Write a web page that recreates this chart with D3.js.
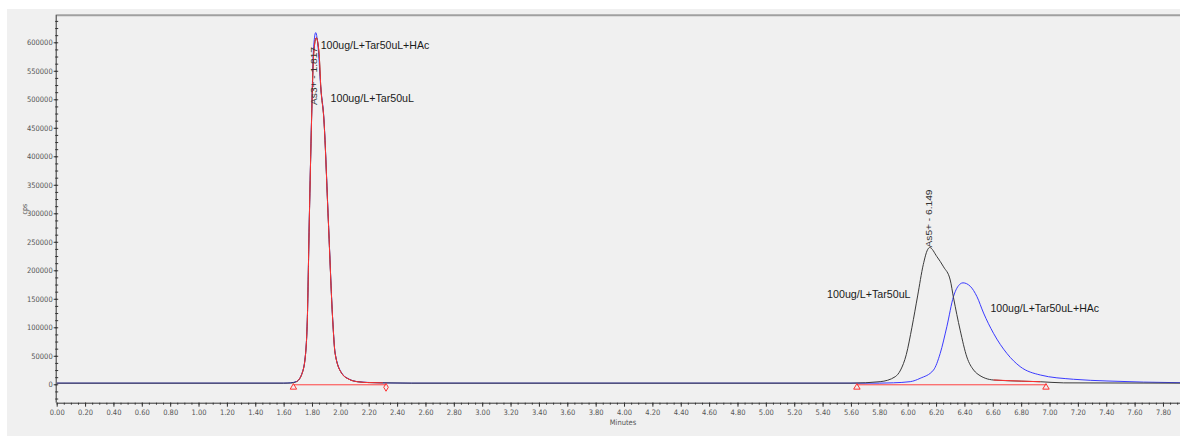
<!DOCTYPE html>
<html>
<head>
<meta charset="utf-8">
<script src="https://cdn.jsdelivr.net/npm/d3@7"></script>
<style>
  html, body { margin: 0; padding: 0; background: #ffffff; }
  svg { display: block; }
</style>
</head>
<body>
<svg id="chart" width="1180" height="436"></svg>
<script>
// ---------------- DATA ----------------
// Trace 1: 100ug/L+Tar50uL (black)
const blackTime = [0, 1.60, 1.65, 1.69, 1.73, 1.755, 1.767, 1.781, 1.797, 1.803, 1.812, 1.830, 1.850, 1.862, 1.884, 1.915, 1.946, 1.963, 2.010, 2.060, 2.120, 2.200, 2.300, 2.500, 5.600, 5.806, 5.912, 5.950, 5.990, 6.030, 6.070, 6.110, 6.140, 6.155, 6.206, 6.253, 6.300, 6.323, 6.370, 6.417, 6.465, 6.488, 6.605, 6.800, 6.935, 7.100, 7.920];
const blackCps  = [2000, 2000, 2200, 4500, 19000, 54000, 113000, 288000, 464000, 522000, 580000, 608000, 580000, 522000, 464000, 288000, 113000, 54000, 19000, 9000, 4500, 3000, 2500, 2000, 2000, 4600, 13300, 25000, 52000, 100000, 155000, 210000, 236000, 240000, 224000, 206000, 183000, 152000, 95000, 48000, 25000, 19000, 7500, 5500, 4500, 2500, 2000];

// Trace 2: 100ug/L+Tar50uL+HAc (blue)
const blueTime = [0, 1.60, 1.65, 1.69, 1.73, 1.755, 1.767, 1.781, 1.797, 1.803, 1.810, 1.826, 1.845, 1.860, 1.884, 1.915, 1.946, 1.963, 2.010, 2.060, 2.120, 2.200, 2.300, 2.500, 5.800, 5.900, 6.018, 6.088, 6.182, 6.229, 6.276, 6.323, 6.370, 6.390, 6.441, 6.488, 6.535, 6.605, 6.700, 6.793, 6.935, 7.169, 7.405, 7.920];
const blueCps  = [2000, 2000, 2700, 4800, 19500, 55000, 114000, 290000, 468000, 528000, 585000, 617000, 585000, 526000, 466000, 290000, 114000, 55000, 19500, 9200, 4700, 3200, 2500, 2000, 2000, 2600, 4600, 10500, 25000, 54000, 101000, 154000, 176000, 178000, 172000, 154000, 125000, 89500, 54000, 31000, 16300, 8800, 5800, 2800];

// Peaks and integration windows (minutes)
const peakNames  = ["As3+", "As5+"];
const peakRT     = [1.817, 6.149];
const intStart   = [1.669, 5.642];
const intEnd     = [2.322, 6.975];
const peakLabelCps = [490000, 240000];
// red integration trace ranges (minutes)
const redTraceFrom = [1.669, 6.600];
const redTraceTo   = [2.322, 6.975];

// Trace labels
const traceLabels    = ["100ug/L+Tar50uL+HAc", "100ug/L+Tar50uL", "100ug/L+Tar50uL", "100ug/L+Tar50uL+HAc"];
const traceLabelTime = [1.861, 1.931, 5.432, 6.584];
const traceLabelCps  = [587700, 495800, 150900, 127400];

// Axis ticks
const xTicks = d3.range(0, 40).map(i => i * 0.2);   // 0.00 .. 7.80
const yTicks = d3.range(0, 13).map(i => i * 50000); // 0 .. 600000

// ---------------- LAYOUT ----------------
(function () {
const svg = d3.select("#chart");
const W = 1180, H = 436;
const pLeft = 56.7, pRight = 1180, pTop = 14.7, pBottom = 402.7;

svg.append("rect").attr("x", 7).attr("y", 9).attr("width", W - 7).attr("height", H - 9).attr("fill", "#f0f0f0");

const x = d3.scaleLinear().domain([0, 7.92]).range([pLeft, pRight]);
const y = d3.scaleLinear().domain([-32300, 648400]).range([pBottom, pTop]);

// top border
svg.append("line").attr("x1", pLeft).attr("x2", pRight).attr("y1", pTop + 0.5).attr("y2", pTop + 0.5)
  .attr("stroke", "#a0a0a0").attr("stroke-width", 2);

const tickFont = "'Liberation Sans Narrow', 'DejaVu Sans Condensed', 'Liberation Sans', sans-serif";

// X axis minor ticks
const xMinor = svg.append("g").attr("transform", `translate(0,${pBottom})`)
  .call(d3.axisBottom(x).tickValues(d3.range(0, 159).map(i => i * 0.05)).tickSize(2).tickFormat(""));
xMinor.select(".domain").remove();
xMinor.selectAll("line").attr("stroke", "#333");

// X axis major
const xAxis = svg.append("g").attr("transform", `translate(0,${pBottom})`)
  .call(d3.axisBottom(x).tickValues(xTicks).tickSize(4).tickSizeOuter(0).tickPadding(3).tickFormat(d3.format(".2f")));
xAxis.select(".domain").attr("stroke", "#333").attr("d", `M${pLeft},0.5H${pRight}`);
xAxis.selectAll("line").attr("stroke", "#333");
xAxis.selectAll("text").attr("font-family", tickFont).attr("font-size", 7.5).attr("fill", "#555");

// Y axis minor ticks
const yMinor = svg.append("g").attr("transform", `translate(${pLeft},0)`)
  .call(d3.axisLeft(y).tickValues(d3.range(-2, 52).map(i => i * 12500)).tickSize(2).tickFormat(""));
yMinor.select(".domain").remove();
yMinor.selectAll("line").attr("stroke", "#333").attr("x2", 1.5).attr("x1", -1.5);

// Y axis major
const yAxis = svg.append("g").attr("transform", `translate(${pLeft},0)`)
  .call(d3.axisLeft(y).tickValues(yTicks).tickSize(3).tickSizeOuter(0).tickPadding(1).tickFormat(d => String(d)));
yAxis.select(".domain").attr("stroke", "#333").attr("d", `M-0.5,${pTop}V${pBottom}`);
yAxis.selectAll("line").attr("stroke", "#333");
yAxis.selectAll("text").attr("font-family", tickFont).attr("font-size", 7.5).attr("fill", "#555");

// Axis titles
svg.append("text").attr("x", 623).attr("y", 425).attr("text-anchor", "middle")
  .attr("font-family", tickFont).attr("font-size", 7.5).attr("fill", "#555").text("Minutes");
svg.append("text").attr("transform", "translate(27,209) rotate(-90)").attr("text-anchor", "middle")
  .attr("font-family", tickFont).attr("font-size", 7).attr("fill", "#555").text("cps");

// ---------------- TRACES ----------------
svg.append("clipPath").attr("id", "plotclip").append("rect")
  .attr("x", pLeft).attr("y", pTop).attr("width", pRight - pLeft).attr("height", pBottom - pTop);
const plot = svg.append("g").attr("clip-path", "url(#plotclip)");

const line = d3.line().x(d => x(d[0])).y(d => y(d[1])).curve(d3.curveMonotoneX);
const blueData  = blueTime.map((t, i) => [t, blueCps[i]]);
const blackData = blackTime.map((t, i) => [t, blackCps[i]]);

plot.append("path").datum(blueData).attr("d", line).attr("fill", "none").attr("stroke", "#3a3aff").attr("stroke-width", 1);
plot.append("path").datum(blackData).attr("d", line).attr("fill", "none").attr("stroke", "#3a3a3a").attr("stroke-width", 1);

// Red integration traces + baselines
redTraceFrom.forEach((t0, i) => {
  const t1 = redTraceTo[i];
  const seg = blackData.filter(d => d[0] >= t0 && d[0] <= t1);
  plot.append("path").datum(seg).attr("d", line).attr("fill", "none").attr("stroke", "#ff3030").attr("stroke-width", 1);
});
intStart.forEach((t0, i) => {
  const t1 = intEnd[i];
  plot.append("line").attr("x1", x(t0)).attr("x2", x(t1)).attr("y1", y(0) + 0.5).attr("y2", y(0) + 0.5)
    .attr("stroke", "#ff4040").attr("stroke-width", 1);
  plot.append("path").attr("d", d3.symbol(d3.symbolTriangle, 18)())
    .attr("transform", `translate(${x(t0)},${y(0) + 3})`).attr("fill", "none").attr("stroke", "#ff3030").attr("stroke-width", 1);
  const endSym = i === 0 ? d3.symbolDiamond : d3.symbolTriangle;
  plot.append("path").attr("d", d3.symbol(endSym, 18)())
    .attr("transform", `translate(${x(t1)},${y(0) + 3})`).attr("fill", "none").attr("stroke", "#ff3030").attr("stroke-width", 1);
});

// Peak labels (rotated)
peakNames.forEach((name, i) => {
  const px = x(peakRT[i]), py = y(peakLabelCps[i]);
  svg.append("text").attr("transform", `translate(${px + 3},${py}) rotate(-90)`)
    .attr("font-family", "'Liberation Sans', Arial, sans-serif").attr("font-size", 8.5).attr("fill", "#333")
    .attr("textLength", 58).attr("lengthAdjust", "spacingAndGlyphs")
    .text(`${name} - ${peakRT[i].toFixed(3)}`);
});

// Trace labels
traceLabels.forEach((lab, i) => {
  svg.append("text").attr("x", x(traceLabelTime[i])).attr("y", y(traceLabelCps[i]))
    .attr("font-family", "'Liberation Sans', Arial, sans-serif").attr("font-size", 11.5).attr("fill", "#1a1a1a")
    .attr("textLength", lab.length > 16 ? 108.6 : 83.4).attr("lengthAdjust", "spacingAndGlyphs")
    .text(lab);
});
})();
</script>
</body>
</html>
